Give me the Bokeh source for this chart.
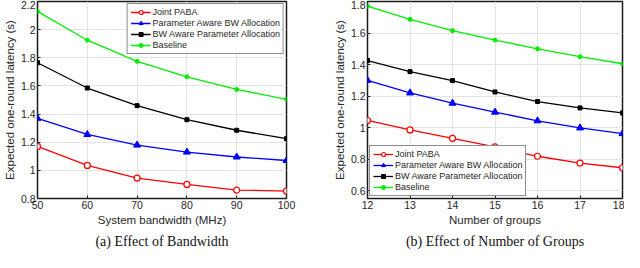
from bokeh.plotting import figure
from bokeh.layouts import row
from bokeh.models import FixedTicker, Title, Range1d, Legend, LegendItem
from bokeh.embed import file_html
from bokeh.resources import INLINE

# ---- data (a) ----
bw = [50, 60, 70, 80, 90, 100]
bw_joint = [1.17, 1.035, 0.945, 0.90, 0.86, 0.853]
bw_pabw = [1.37, 1.255, 1.18, 1.13, 1.095, 1.07]
bw_bwap = [1.765, 1.585, 1.46, 1.36, 1.285, 1.225]
bw_base = [2.13, 1.925, 1.775, 1.665, 1.575, 1.505]
bw_yticks = [0.8, 1.0, 1.2, 1.4, 1.6, 1.8, 2.0, 2.2]

# ---- data (b) ----
groups = [12, 13, 14, 15, 16, 17, 18]
g_joint = [1.045, 0.985, 0.932, 0.877, 0.818, 0.775, 0.745]
g_pabw = [1.30, 1.22, 1.155, 1.098, 1.043, 0.998, 0.962]
g_bwap = [1.425, 1.355, 1.298, 1.226, 1.165, 1.125, 1.093]
g_base = [1.77, 1.687, 1.615, 1.555, 1.50, 1.45, 1.405]
g_yticks = [0.6, 0.8, 1.0, 1.2, 1.4, 1.6, 1.8]

names = ["Joint PABA", "Parameter Aware BW Allocation",
         "BW Aware Parameter Allocation", "Baseline"]
colors = ["#ff0000", "#0000ff", "#000000", "#00ee00"]

SANS = "Liberation Sans"
SERIF = "Liberation Serif"
TXT = "#262626"


def fmt(v):
    s = ("%.1f" % v)
    return s[:-2] if s.endswith(".0") else s


def make(x, series, xr, yr, yticks, xlabel, caption, bl, br, legend_loc):
    p = figure(width=312, height=252, output_backend="svg", toolbar_location=None,
               x_range=Range1d(*xr), y_range=Range1d(*yr),
               min_border_left=bl, min_border_right=br, min_border_top=1,
               min_border_bottom=0)
    p.outline_line_color = "#1a1a1a"
    p.outline_line_width = 1.5
    p.background_fill_color = "white"
    p.border_fill_color = "white"
    for ax in (p.xaxis[0], p.yaxis[0]):
        ax.axis_line_color = None
        ax.major_tick_in = 3
        ax.major_tick_out = 0
        ax.minor_tick_line_color = None
        ax.major_tick_line_color = "#262626"
        ax.major_label_text_font = SANS
        ax.major_label_text_font_size = "10.5px"
        ax.major_label_text_color = TXT
        ax.axis_label_text_font = SANS
        ax.axis_label_text_font_size = "11.5px"
        ax.axis_label_text_color = TXT
        ax.axis_label_text_font_style = "normal"
        ax.major_label_standoff = 2
        ax.axis_label_standoff = 2
    p.xaxis[0].ticker = FixedTicker(ticks=x)
    p.xaxis[0].major_label_overrides = {v: str(v) for v in x}
    p.yaxis[0].ticker = FixedTicker(ticks=yticks)
    p.yaxis[0].major_label_overrides = {v: fmt(v) for v in yticks}
    p.xaxis[0].axis_label = xlabel
    p.yaxis[0].axis_label = "Expected one-round latency (s)"
    p.grid.grid_line_color = "#e3e3e3"
    p.grid.grid_line_width = 1

    ys, c = series, colors
    l0 = p.line(x, ys[0], line_color=c[0], line_width=1.3)
    m0 = p.scatter(x, ys[0], marker="circle", size=6, line_color=c[0],
                   fill_color="white", line_width=1.2)
    l1 = p.line(x, ys[1], line_color=c[1], line_width=1.3)
    m1 = p.scatter(x, ys[1], marker="triangle", size=7, line_color=c[1], fill_color=c[1])
    l2 = p.line(x, ys[2], line_color=c[2], line_width=1.3)
    m2 = p.scatter(x, ys[2], marker="square", size=4, line_color=c[2], fill_color=c[2])
    l3 = p.line(x, ys[3], line_color=c[3], line_width=1.3)
    m3 = p.scatter(x, ys[3], marker="circle", size=4, line_color=c[3], fill_color=c[3])
    rs = [(l0, m0), (l1, m1), (l2, m2), (l3, m3)]
    items = [LegendItem(label=n, renderers=[l, m]) for n, (l, m) in zip(names, rs)]
    leg = Legend(items=items, location=legend_loc)
    leg.label_text_font = SANS
    leg.label_text_font_size = "9px"
    leg.label_text_color = TXT
    leg.label_height = 10
    leg.glyph_height = 10
    leg.glyph_width = 20
    leg.spacing = 1
    leg.padding = 3
    leg.margin = 2
    leg.label_standoff = 2
    leg.border_line_color = "#1a1a1a"
    leg.border_line_width = 1.2
    leg.background_fill_alpha = 1
    p.add_layout(leg)

    t = Title(text=caption, align="center", text_font=SERIF, text_font_size="14px",
              text_font_style="normal", text_color="#111111", offset=0, standoff=7)
    p.add_layout(t, "below")
    return p


pa = make(bw, [bw_joint, bw_pabw, bw_bwap, bw_base], (50, 100), (0.8, 2.2), bw_yticks,
          "System bandwidth (MHz)", "(a) Effect of Bandwidth", 30, 26, "top_right")
pb = make(groups, [g_joint, g_pabw, g_bwap, g_base], (12, 18), (0.55, 1.8), g_yticks,
          "Number of groups", "(b) Effect of Number of Groups", 55, 2, "bottom_left")

layout = row(pa, pb)
open("out.html", "w").write(file_html(layout, INLINE))
